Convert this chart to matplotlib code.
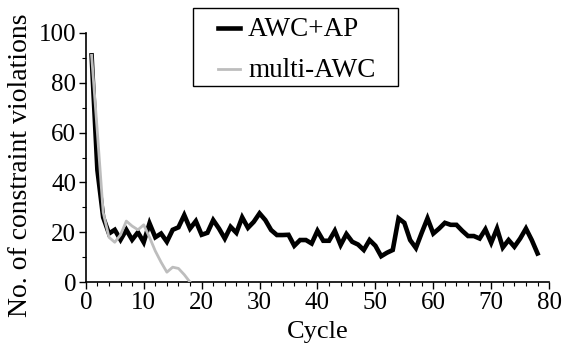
import matplotlib
matplotlib.use("Agg")
import matplotlib.pyplot as plt
from matplotlib.lines import Line2D
from matplotlib.patches import Rectangle
from matplotlib.ticker import MultipleLocator

# AWC+AP: one value per cycle, cycles 1..78
awc_ap_cycles = list(range(1, 79))
awc_ap_values = [
    91, 45, 26, 19.5, 21, 17, 21, 17, 20, 16,
    23.6, 18, 19.5, 16.2, 21, 22, 26.9, 21.5, 24.5, 19,
    19.8, 24.9, 21.5, 17.5, 22.2, 19.8, 26, 21.8, 24.2, 27.6,
    24.9, 20.9, 18.9, 18.9, 19, 14.6, 16.9, 16.9, 15.5, 20.6,
    16.6, 16.6, 20.6, 14.9, 19.3, 16.2, 15.1, 12.9, 16.9, 14.6,
    10.4, 11.8, 12.9, 25.6, 23.8, 16.9, 13.7, 19.8, 25.6, 19.5,
    21.5, 23.8, 23, 23, 20.6, 18.5, 18.5, 17.5, 21.2, 15.8,
    21.5, 13.9, 16.9, 14.2, 17.5, 21.5, 16.9, 11.5,
]

# multi-AWC: cycles 1..18
multi_cycles = list(range(1, 19))
multi_values = [91, 60, 28, 18, 16, 19, 24.5, 22.5, 21, 23,
                18, 12.5, 8, 4, 6, 5.5, 3, 0]

series_labels = ['AWC+AP', 'multi-AWC']
series_colors = ['black', '#bdbdbd']
series_widths = [3.3, 2.0]

plt.rcParams['font.family'] = ['Liberation Serif', 'DejaVu Serif']

fig = plt.figure(figsize=(5.72, 3.54), dpi=100)
ax = fig.add_axes([0.150, 0.203, 0.810, 0.704])

ax.plot(awc_ap_cycles, awc_ap_values, color=series_colors[0], lw=series_widths[0],
        solid_joinstyle='miter', zorder=2)
ax.plot(multi_cycles, multi_values, color=series_colors[1], lw=series_widths[1],
        zorder=3)

ax.set_xlim(0, 80)
ax.set_ylim(0, 100)
ax.xaxis.set_major_locator(MultipleLocator(10))
ax.xaxis.set_minor_locator(MultipleLocator(2))
ax.yaxis.set_major_locator(MultipleLocator(20))
ax.yaxis.set_minor_locator(MultipleLocator(10))
ax.tick_params(which='major', direction='out', length=5, width=1, labelsize=18, pad=2)
ax.tick_params(which='minor', direction='out', length=3, width=0.8)

for side in ['top', 'right']:
    ax.spines[side].set_visible(False)
for side in ['left', 'bottom']:
    ax.spines[side].set_linewidth(1.2)

ax.set_xlabel('Cycle', fontsize=19, labelpad=5)
ax.set_ylabel('No. of constraint violations', fontsize=20)
ax.yaxis.set_label_coords(-0.1145, 0.47)

# legend box drawn by hand so the padding matches the original
fig.add_artist(Rectangle((0.3374, 0.7571), 0.3584, 0.2203, transform=fig.transFigure,
                         facecolor='white', edgecolor='black', lw=1.0))
for i, label in enumerate(series_labels):
    y = 0.921 - i * 0.116
    fig.add_artist(Line2D([0.381, 0.4196], [y, y], transform=fig.transFigure,
                          color=series_colors[i], lw=series_widths[i]))
    fig.text(0.4336, y - 0.003, label, fontsize=19.5, va='center', ha='left')

fig.savefig('out.png', dpi=100)
